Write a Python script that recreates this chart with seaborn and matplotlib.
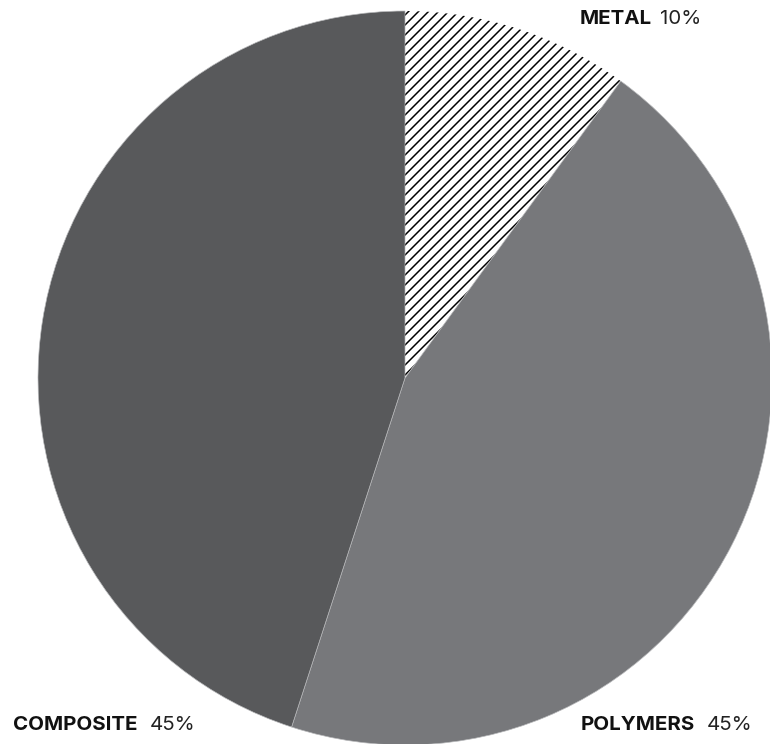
import matplotlib
matplotlib.use("Agg")
import matplotlib.pyplot as plt
import seaborn as sns

categories = ["METAL", "POLYMERS", "COMPOSITE"]
shares = [10, 45, 45]
share_labels = ["10%", "45%", "45%"]

sns.set_style("white")
plt.rcParams["font.family"] = ["Inter", "DejaVu Sans"]
plt.rcParams["hatch.linewidth"] = 0.9

fig = plt.figure(figsize=(770 / 120, 744 / 120), dpi=120)
# circle of radius 367px centred at (405, 378) from top-left
ax = fig.add_axes([38 / 770, -1 / 744, 734 / 770, 734 / 744])

colors = ["white", "#77787b", "#58595b"]
wedges, _ = ax.pie(shares, colors=colors, startangle=90, counterclock=False,
                   radius=1, wedgeprops=dict(linewidth=0.4, edgecolor="#b8b9bb"))
wedges[0].set_hatch("////")
wedges[0].set_edgecolor("black")
wedges[0].set_linewidth(0)
ax.set_xlim(-1, 1)
ax.set_ylim(-1, 1)
ax.axis("off")

label_pos = {"METAL": (580, 19, 8), "POLYMERS": (581, 725, 12), "COMPOSITE": (13, 725, 12)}
for cat, lab in zip(categories, share_labels):
    x, y, gap = label_pos[cat]
    t = fig.text(x / 770, 1 - y / 744, cat, fontsize=12.3, fontweight="bold",
                 va="center", ha="left", color="#111111")
    fig.canvas.draw()
    bb = t.get_window_extent()
    fig.text((bb.x1 + gap) / 770, 1 - y / 744, lab, fontsize=12.3,
             va="center", ha="left", color="#222222")

fig.savefig("out.png", dpi=120)
